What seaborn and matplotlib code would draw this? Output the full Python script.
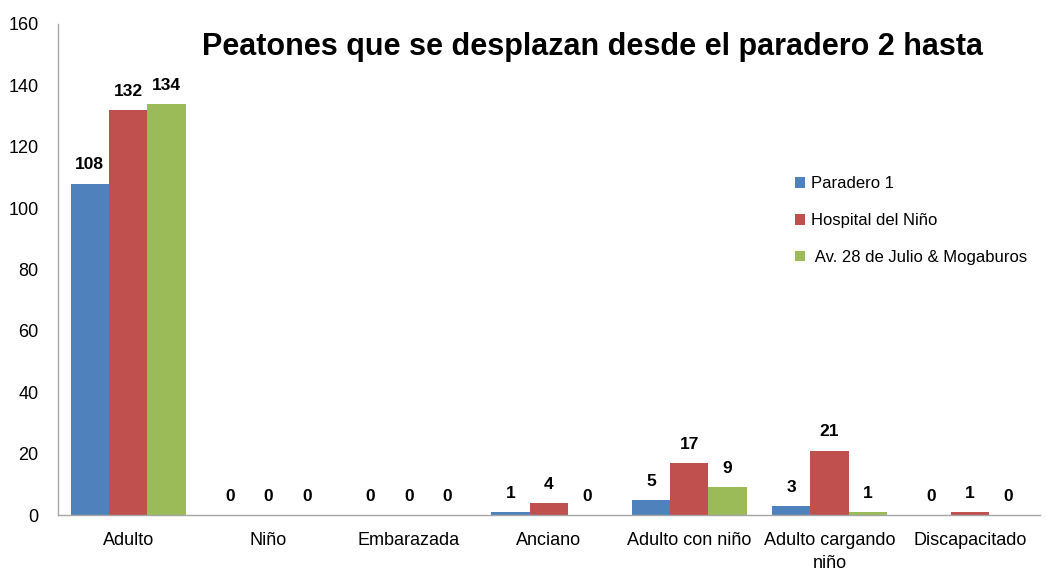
import pandas as pd
import seaborn as sns
import matplotlib.pyplot as plt

categorias = ['Adulto', 'Niño', 'Embarazada', 'Anciano', 'Adulto con niño',
              'Adulto cargando\nniño', 'Discapacitado']
series = ['Paradero 1', 'Hospital del Niño', ' Av. 28 de Julio & Mogaburos']
paradero_1 = [108, 0, 0, 1, 5, 3, 0]
hospital = [132, 0, 0, 4, 17, 21, 1]
av_28 = [134, 0, 0, 0, 9, 1, 0]
colores = ['#4F81BD', '#C0504D', '#9BBB59']

df = pd.DataFrame({
    'tipo': categorias * 3,
    'destino': [series[0]] * 7 + [series[1]] * 7 + [series[2]] * 7,
    'peatones': paradero_1 + hospital + av_28,
})

sns.set_style('white')
plt.rcParams['font.family'] = ['Liberation Sans', 'DejaVu Sans']
plt.rcParams['text.color'] = 'black'
plt.rcParams['xtick.color'] = 'black'
plt.rcParams['ytick.color'] = 'black'

fig = plt.figure(figsize=(10.47, 5.72), dpi=100)
ax = fig.add_axes([58 / 1047, 1 - 515 / 572, (1040 - 58) / 1047, (515 - 24) / 572])
sns.barplot(data=df, x='tipo', y='peatones', hue='destino', palette=colores,
            width=0.82, ax=ax, saturation=1, linewidth=0, legend=True)

for cont in ax.containers:
    ax.bar_label(cont, fmt='%d', padding=8, fontsize=12.5, fontweight='bold')

ax.set_ylim(0, 160)
ax.set_yticks(range(0, 161, 20))
ax.set_xlabel('')
ax.set_ylabel('')
ax.tick_params(axis='both', length=0, labelsize=13)
ax.tick_params(axis='x', pad=12)
ax.tick_params(axis='y', pad=14)
for lab in ax.get_xticklabels():
    lab.set_linespacing(1.5)
for s in ['top', 'right']:
    ax.spines[s].set_visible(False)
for s in ['left', 'bottom']:
    ax.spines[s].set_color('#A6A6A6')
    ax.spines[s].set_linewidth(1)

ax.legend(loc='upper left', bbox_to_anchor=(0.735, 0.72), frameon=False,
          handlelength=0.6, handleheight=0.6, labelspacing=1.3,
          handletextpad=0.4, prop={'size': 12})

fig.text(592 / 1047, 1 - 47 / 572, 'Peatones que se desplazan desde el paradero 2 hasta',
         ha='center', va='center', fontsize=22, fontweight='bold')

fig.savefig('out.png', dpi=100)
